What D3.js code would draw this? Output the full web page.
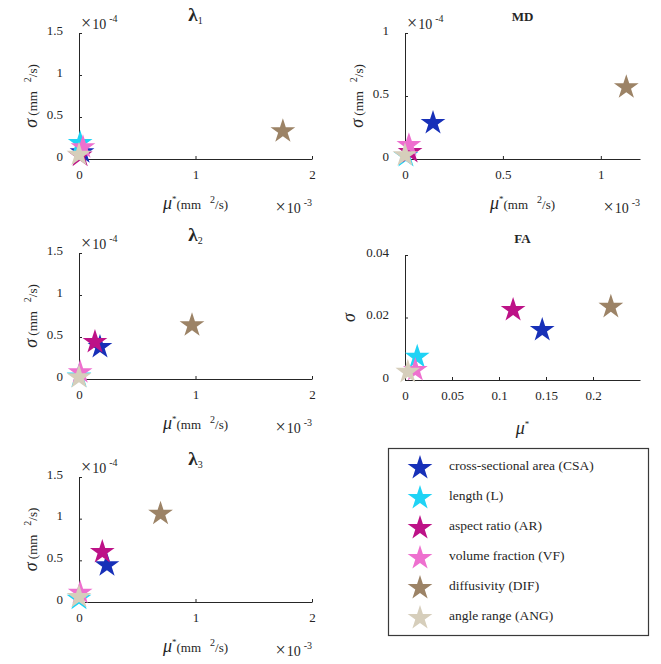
<!DOCTYPE html>
<html>
<head>
<meta charset="utf-8">
<script src="https://cdn.jsdelivr.net/npm/d3@7"></script>
<style>
  body { margin: 0; background: #fff; }
  svg text { font-family: 'Liberation Serif', 'Times New Roman', serif; fill: #262626; }
</style>
</head>
<body>
<div id="chart"></div>
<script>
var parameters = ['cross-sectional area (CSA)', 'length (L)', 'aspect ratio (AR)',
  'volume fraction (VF)', 'diffusivity (DIF)', 'angle range (ANG)'];
var colours = ['#1730b8', '#1fd3f5', '#bd1287', '#ee70cf', '#9c8366', '#d6cebb'];

// mu* and sigma for each parameter, same order as above.
// Diffusivity panels: mu* in 1e-3 mm^2/s, sigma in 1e-4 mm^2/s
var lambda1Mu = [0.026, 0.01, 0.01, 0.034, 1.75, 0.0];
var lambda1Sigma = [0.08, 0.19, 0.04, 0.14, 0.33, 0.05];

var mdMu = [0.143, 0.005, 0.026, 0.02, 1.13, 0.0];
var mdSigma = [0.286, 0.024, 0.056, 0.11, 0.57, 0.03];

var lambda2Mu = [0.18, 0.0, 0.137, 0.01, 0.97, 0.0];
var lambda2Sigma = [0.38, 0.03, 0.44, 0.08, 0.64, 0.02];

var lambda3Mu = [0.24, 0.0, 0.2, 0.01, 0.70, 0.0];
var lambda3Sigma = [0.44, 0.04, 0.6, 0.11, 1.06, 0.06];

// FA is unitless
var faMu = [0.146, 0.013, 0.115, 0.011, 0.219, 0.003];
var faSigma = [0.016, 0.0074, 0.0224, 0.0032, 0.0234, 0.0026];

var lambdaXTicks = [0, 1, 2];
var lambdaYTicks = [0, 0.5, 1, 1.5];
var mdXTicks = [0, 0.5, 1];
var mdYTicks = [0, 0.5, 1];
var faXTicks = [0, 0.05, 0.1, 0.15, 0.2];
var faYTicks = [0, 0.02, 0.04];

var starSize = 190;
var ink = '#262626';

function buildPanels() {
  return [
    { title: '\u03bb', sub: '1', left: 79, right: 312, top: 33, bottom: 159,
      xDomain: [0, 2], yDomain: [0, 1.5], xTicks: lambdaXTicks, yTicks: lambdaYTicks,
      mu: lambda1Mu, sigma: lambda1Sigma, units: true, xExp: '-3', yExp: '-4' },
    { title: 'MD', left: 405, right: 640, top: 33, bottom: 159,
      xDomain: [0, 1.2], yDomain: [0, 1], xTicks: mdXTicks, yTicks: mdYTicks,
      mu: mdMu, sigma: mdSigma, units: true, xExp: '-3', yExp: '-4' },
    { title: '\u03bb', sub: '2', left: 79, right: 312, top: 253, bottom: 379,
      xDomain: [0, 2], yDomain: [0, 1.5], xTicks: lambdaXTicks, yTicks: lambdaYTicks,
      mu: lambda2Mu, sigma: lambda2Sigma, units: true, xExp: '-3', yExp: '-4' },
    { title: 'FA', left: 405, right: 640, top: 255, bottom: 380,
      xDomain: [0, 0.25], yDomain: [0, 0.04], xTicks: faXTicks, yTicks: faYTicks,
      mu: faMu, sigma: faSigma, units: false },
    { title: '\u03bb', sub: '3', left: 79, right: 312, top: 477, bottom: 602,
      xDomain: [0, 2], yDomain: [0, 1.5], xTicks: lambdaXTicks, yTicks: lambdaYTicks,
      mu: lambda3Mu, sigma: lambda3Sigma, units: true, xExp: '-3', yExp: '-4' }
  ];
}

function styleAxis(axisG) {
  axisG.attr('font-family', null).attr('font-size', 13).attr('color', ink);
  axisG.selectAll('path, line').attr('stroke', ink).attr('stroke-width', 1);
}

// "x 10^e" multiplier label
function addExponent(g, x, y, anchor, exp) {
  var t = g.append('text')
    .attr('x', x)
    .attr('y', y)
    .attr('text-anchor', anchor)
    .style('font-size', '14px');
  t.append('tspan').style('font-size', '18px').text('\u00d7');
  t.append('tspan').attr('dx', 1).text('10');
  t.append('tspan').attr('dx', 3).attr('dy', -7).style('font-size', '10px').text('-' + exp.slice(1));
}

function drawPanel(svg, p) {
  var x = d3.scaleLinear().domain(p.xDomain).range([p.left, p.right]);
  var y = d3.scaleLinear().domain(p.yDomain).range([p.bottom, p.top]);
  var g = svg.append('g').attr('class', 'panel');

  var xAxis = g.append('g')
    .attr('transform', 'translate(0,' + p.bottom + ')')
    .call(d3.axisBottom(x)
      .tickValues(p.xTicks)
      .tickFormat(d => String(d))
      .tickSizeInner(-3)
      .tickSizeOuter(0)
      .tickPadding(11));
  styleAxis(xAxis);

  var yAxis = g.append('g')
    .attr('transform', 'translate(' + p.left + ',0)')
    .call(d3.axisLeft(y)
      .tickValues(p.yTicks)
      .tickFormat(d => String(d))
      .tickSizeInner(-3)
      .tickSizeOuter(0)
      .tickPadding(16));
  styleAxis(yAxis);
  yAxis.selectAll('.tick text').attr('dy', '0.1em');

  var cx = (p.left + p.right) / 2;
  var cy = (p.top + p.bottom) / 2;

  // Title
  var title = g.append('text')
    .attr('x', cx)
    .attr('y', p.top - 12)
    .attr('text-anchor', 'middle')
    .style('font-weight', 'bold')
    .style('font-size', p.sub ? '19px' : '13px');
  title.append('tspan').text(p.title);
  if(p.sub) {
    title.append('tspan').attr('dy', 3).style('font-size', '10px').style('font-weight', 'normal').text(p.sub);
  }

  // Axis labels
  var xLabel = g.append('text')
    .attr('x', cx)
    .attr('y', p.units ? p.bottom + 50 : p.bottom + 54)
    .attr('text-anchor', 'middle')
    .style('font-size', '13px');
  xLabel.append('tspan').style('font-style', 'italic').style('font-size', '18px').text('\u03bc');
  xLabel.append('tspan').attr('dy', -7).style('font-size', '9px').text('*');
  if(p.units) {
    xLabel.append('tspan').attr('dy', 7).text('(mm');
    xLabel.append('tspan').attr('dx', 9).attr('dy', -6).style('font-size', '10px').text('2');
    xLabel.append('tspan').attr('dy', 6).text('/s)');
  }

  var yLabel = g.append('text')
    .attr('transform', 'translate(' + (p.units ? p.left - 42 : p.left - 50) + ',' + cy + ') rotate(-90)')
    .attr('text-anchor', 'middle')
    .style('font-size', '13px');
  yLabel.append('tspan').style('font-style', 'italic').style('font-size', '18px').text('\u03c3');
  if(p.units) {
    yLabel.append('tspan').text(' (mm');
    yLabel.append('tspan').attr('dx', 9).attr('dy', -6).style('font-size', '10px').text('2');
    yLabel.append('tspan').attr('dy', 6).text('/s)');
  }

  if(p.xExp) {
    addExponent(g, p.right, p.bottom + 54, 'end', p.xExp);
    addExponent(g, p.left + 2, p.top - 4, 'start', p.yExp);
  }

  // Stars, drawn in parameter order so later ones sit on top
  var star = d3.symbol().type(d3.symbolStar).size(starSize);
  g.selectAll('path.star')
    .data(parameters.map((name, i) => ({ name: name, mu: p.mu[i], sigma: p.sigma[i], colour: colours[i] })))
    .enter()
    .append('path')
    .attr('class', 'star')
    .attr('d', star)
    .attr('transform', d => 'translate(' + x(d.mu) + ',' + y(d.sigma) + ')')
    .style('fill', d => d.colour);
}

function drawLegend(svg) {
  var box = { x: 388, y: 448, w: 260, h: 187 };
  var rowY = d3.scalePoint()
    .domain(parameters)
    .range([box.y + 19, box.y + 169]);

  svg.append('rect')
    .attr('x', box.x + 0.5)
    .attr('y', box.y + 0.5)
    .attr('width', box.w)
    .attr('height', box.h)
    .style('fill', '#fff')
    .style('stroke', '#3a3a3a')
    .style('stroke-width', 1.2);

  var rows = svg.selectAll('g.legend-row')
    .data(parameters)
    .enter()
    .append('g')
    .attr('class', 'legend-row')
    .attr('transform', d => 'translate(' + box.x + ',' + rowY(d) + ')');

  rows.append('path')
    .attr('d', d3.symbol().type(d3.symbolStar).size(starSize))
    .attr('transform', 'translate(32,1)')
    .style('fill', (d, i) => colours[i]);

  rows.append('text')
    .attr('x', 61)
    .attr('dy', '0.2em')
    .style('font-size', '13.5px')
    .text(d => d);
}

function init() {
  var svg = d3.select('#chart')
    .append('svg')
    .attr('width', 661)
    .attr('height', 664);

  buildPanels().forEach(p => drawPanel(svg, p));
  drawLegend(svg);
}

init();
</script>
</body>
</html>
